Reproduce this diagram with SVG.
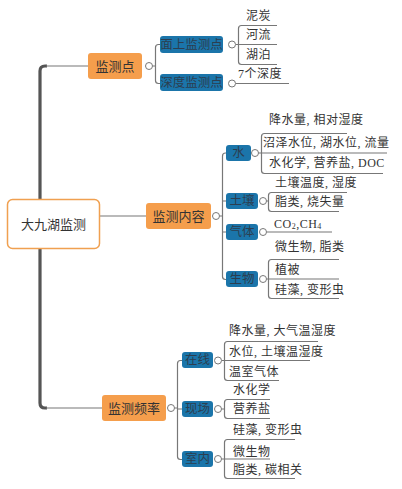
<svg xmlns="http://www.w3.org/2000/svg" width="402" height="489" viewBox="0 0 402 489">
<style>
text{font-family:"Liberation Serif","Noto Sans CJK SC",serif;dominant-baseline:central;fill:#333}
.leaf{font-size:12px;letter-spacing:0.5px}
.org rect{fill:#F59E4C}
.org text{font-size:13px;text-anchor:middle}
.blu rect{fill:#1B75AA}
.blu text{font-size:12.5px;text-anchor:middle;fill:#2c3e50}
.ln{fill:none;stroke:#777;stroke-width:1.2}
.trunk{fill:none;stroke:#555;stroke-width:3.2}
.dot{fill:#fff;stroke:#777;stroke-width:1}
</style>
<g id="connectors">
<path class="trunk" d="M40 199 V71 Q40 66 45 66 H47"/>
<path class="ln" d="M46 66 H88"/>
<path class="trunk" d="M40 249 V403 Q40 408 45 408 H47"/>
<path class="ln" d="M46 408 H102"/>
<path class="ln" d="M100 216 H146"/>
<path class="ln" d="M152.5 66 H155.5 M160 44.5 H158.5 Q155.5 44.5 155.5 47.5 V80.5 Q155.5 83.5 158.5 83.5 H160"/>
<path class="ln" d="M235.5 44.5 H277 M277 25.5 H241.5 Q238.5 25.5 238.5 28.5 V61.5 Q238.5 64.5 241.5 64.5 H277"/>
<path class="ln" d="M235.5 83.5 H289"/>
<path class="ln" d="M219.5 216 H222.5 M226 153 H225.5 Q222.5 153 222.5 156 M222.5 156 V276.5 Q222.5 279.5 225.5 279.5 H226 M222.5 201 H226 M222.5 232 H226"/>
<path class="ln" d="M258.5 153 H387 M347 133.5 H264.5 Q261.5 133.5 261.5 136.5 V170.5 Q261.5 173.5 264.5 173.5 H383"/>
<path class="ln" d="M266.5 201 H268.5 M347 192.5 H271.5 Q268.5 192.5 268.5 195.5 V208.5 Q268.5 211.5 271.5 211.5 H339"/>
<path class="ln" d="M266.5 232 H332"/>
<path class="ln" d="M266.5 279 H339 M339 259.5 H271.5 Q268.5 259.5 268.5 262.5 V295.5 Q268.5 298.5 271.5 298.5 H339"/>
<path class="ln" d="M174.5 408 H177.5 M182 360.5 H180.5 Q177.5 360.5 177.5 363.5 V456.5 Q177.5 459.5 180.5 459.5 H182 M177.5 409 H182"/>
<path class="ln" d="M221.5 360.5 H310 M318 341.5 H227.5 Q224.5 341.5 224.5 344.5 V377.5 Q224.5 380.5 227.5 380.5 H279"/>
<path class="ln" d="M221.5 409 H224.5 M270 399.5 H227.5 Q224.5 399.5 224.5 402.5 V415.5 Q224.5 418.5 227.5 418.5 H270"/>
<path class="ln" d="M221.5 459 H270 M295 439.5 H227.5 Q224.5 439.5 224.5 442.5 V475.5 Q224.5 478.5 227.5 478.5 H295"/>
<circle class="dot" cx="149" cy="66" r="3.5"/>
<circle class="dot" cx="232" cy="44.5" r="3.5"/>
<circle class="dot" cx="232" cy="83.5" r="3.5"/>
<circle class="dot" cx="216" cy="216" r="3.5"/>
<circle class="dot" cx="255" cy="153" r="3.5"/>
<circle class="dot" cx="263" cy="201" r="3.5"/>
<circle class="dot" cx="263" cy="232" r="3.5"/>
<circle class="dot" cx="263" cy="279" r="3.5"/>
<circle class="dot" cx="171" cy="408" r="3.5"/>
<circle class="dot" cx="218" cy="360.5" r="3.5"/>
<circle class="dot" cx="218" cy="409" r="3.5"/>
<circle class="dot" cx="218" cy="459" r="3.5"/>
</g>
<g id="root"><rect x="7.5" y="199.5" width="92" height="49" rx="5" fill="#fff" stroke="#F0A050" stroke-width="1.5"/><text x="53.5" y="224" font-size="13" text-anchor="middle">大九湖监测</text></g>
<g id="n-jcd" class="org"><rect x="88" y="53" width="54" height="26" rx="3"/><text x="115" y="66">监测点</text></g>
<g id="n-jcnr" class="org"><rect x="146" y="203" width="65" height="26" rx="3"/><text x="178.5" y="216">监测内容</text></g>
<g id="n-jcpl" class="org"><rect x="102" y="395" width="64" height="26" rx="3"/><text x="134" y="408">监测频率</text></g>
<g id="n-ms" class="blu"><rect x="160" y="36" width="63" height="17" rx="3"/><text x="191.5" y="44.5">面上监测点</text></g>
<g id="n-sd" class="blu"><rect x="160" y="74" width="63" height="17" rx="3"/><text x="191.5" y="82.5">深度监测点</text></g>
<g id="n-water" class="blu"><rect x="226" y="145" width="25" height="16" rx="3"/><text x="238.5" y="153">水</text></g>
<g id="n-soil" class="blu"><rect x="226" y="193" width="32" height="16" rx="3"/><text x="242" y="201">土壤</text></g>
<g id="n-gas" class="blu"><rect x="226" y="224" width="32" height="16" rx="3"/><text x="242" y="232">气体</text></g>
<g id="n-bio" class="blu"><rect x="226" y="271" width="32" height="16" rx="3"/><text x="242" y="279">生物</text></g>
<g id="n-online" class="blu"><rect x="182" y="352" width="31" height="16" rx="3"/><text x="197.5" y="360">在线</text></g>
<g id="n-field" class="blu"><rect x="182" y="401" width="31" height="16" rx="3"/><text x="197.5" y="409">现场</text></g>
<g id="n-lab" class="blu"><rect x="182" y="451" width="31" height="16" rx="3"/><text x="197.5" y="459">室内</text></g>
<g id="leaves" class="leaf">
<text x="246" y="16">泥炭</text>
<text x="246" y="35">河流</text>
<text x="246" y="55">湖泊</text>
<text x="238" y="74">7个深度</text>
<text x="269" y="120">降水量, 相对湿度</text>
<text x="263" y="143">沼泽水位, 湖水位, 流量</text>
<text x="269" y="163">水化学, 营养盐, DOC</text>
<text x="275" y="183">土壤温度, 湿度</text>
<text x="275" y="202">脂类, 烧失量</text>
<text x="274" y="224">CO<tspan font-size="8" dy="2">2</tspan><tspan dy="-2">,CH</tspan><tspan font-size="8" dy="2">4</tspan></text>
<text x="275" y="247">微生物, 脂类</text>
<text x="275" y="270">植被</text>
<text x="275" y="290">硅藻, 变形虫</text>
<text x="229" y="331">降水量, 大气温湿度</text>
<text x="229" y="352">水位, 土壤温湿度</text>
<text x="229" y="372">温室气体</text>
<text x="233" y="390">水化学</text>
<text x="233" y="409">营养盐</text>
<text x="233" y="430">硅藻, 变形虫</text>
<text x="233" y="452">微生物</text>
<text x="233" y="470">脂类, 碳相关</text>
</g>
</svg>
